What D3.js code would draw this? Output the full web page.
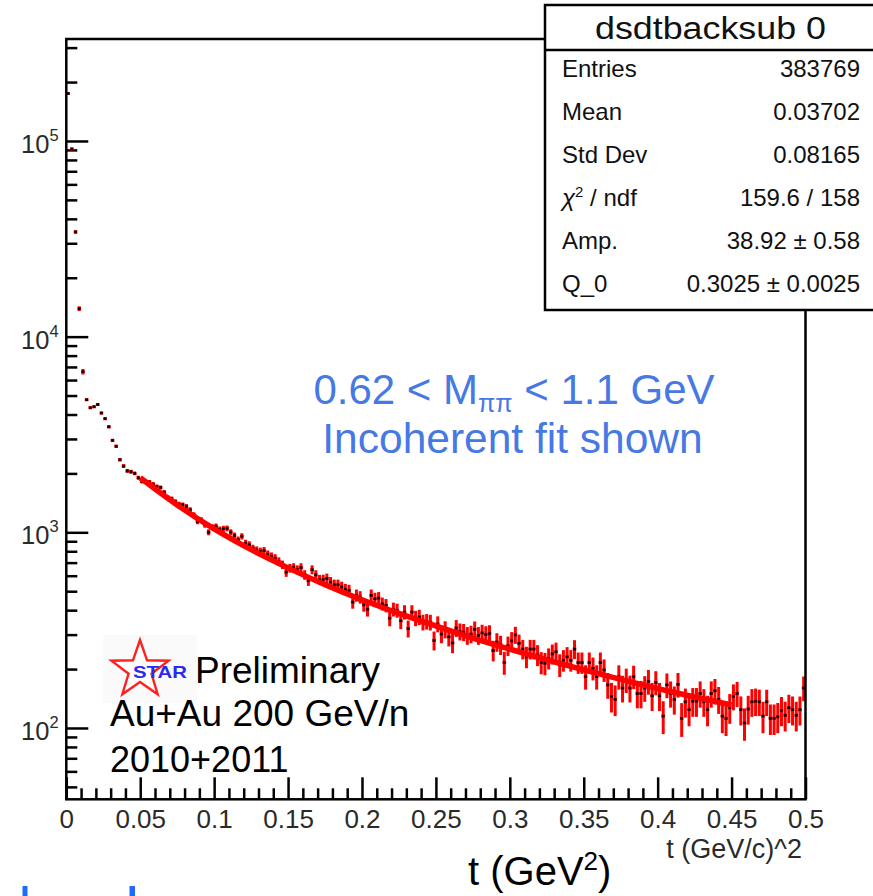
<!DOCTYPE html>
<html>
<head>
<meta charset="utf-8">
<script src="https://cdn.jsdelivr.net/npm/d3@7"></script>
<style>
  html, body { margin: 0; padding: 0; background: #fff; }
  svg { display: block; }
  text { font-family: "Liberation Sans", Arial, Helvetica, sans-serif; }
</style>
</head>
<body>
<script>
// ---- histogram: dsigma/dt after background subtraction, 200 bins of 0.0025 on [0, 0.5]
const histName = "dsdtbacksub 0";
const tMin = 0;
const binWidth = 0.0025;
const counts = [
  175000, 91000, 34300, 13900, 6620, 4760, 4330, 4380, 4500, 4070,
  3810, 3460, 2950, 2750, 2350, 2180, 2060, 2040, 2000, 1900,
  1820, 1820, 1805, 1762, 1714, 1695, 1603, 1506, 1483, 1437,
  1393, 1383, 1355, 1304, 1229, 1136, 1158, 1093, 1002, 1063,
  1073, 1034, 1043, 1048, 1002, 963, 917, 955, 880, 864,
  830, 812, 800, 806, 773, 754, 738, 710, 683, 626,
  656, 661, 644, 661, 606, 566, 644, 606, 572, 573,
  581, 557, 539, 539, 525, 511, 505, 440, 476, 466,
  426, 404, 476, 457, 461, 431, 423, 364, 404, 399,
  353, 391, 322, 391, 364, 369, 347, 350, 347, 280,
  340, 302, 319, 292, 272, 324, 311, 309, 297, 302,
  319, 297, 306, 300, 304, 249, 275, 266, 216, 263,
  279, 299, 271, 253, 231, 253, 253, 236, 216, 214,
  227, 239, 245, 210, 222, 231, 222, 253, 216, 216,
  183, 216, 202, 183, 216, 198, 166, 145, 140, 183,
  160, 176, 160, 183, 150, 150, 160, 173, 146, 171,
  146, 115, 166, 150, 140, 167, 112, 136, 124, 137,
  137, 150, 136, 124, 150, 155, 140, 115, 112, 127,
  145, 150, 124, 106, 125, 136, 137, 136, 115, 136,
  112, 112, 114, 123, 116, 127, 124, 116, 124, 160
];
const errors = [
  1800, 1250, 700, 380, 220, 70, 66, 66, 66, 63,
  61, 58, 54, 52, 49, 47, 46, 46, 45, 44,
  44, 44, 43, 43, 42, 42, 41, 40, 40, 40,
  39, 39, 39, 38, 38, 37, 37, 37, 36, 37,
  37, 36, 36, 36, 36, 35, 35, 35, 35, 35,
  35, 35, 35, 35, 35, 35, 35, 35, 34, 34,
  34, 34, 34, 34, 34, 34, 34, 34, 34, 34,
  34, 34, 34, 34, 34, 34, 34, 33, 34, 34,
  33, 33, 34, 34, 34, 33, 33, 33, 33, 33,
  33, 33, 32, 33, 33, 33, 32, 32, 32, 31,
  32, 31, 32, 31, 31, 32, 31, 31, 31, 31,
  31, 31, 31, 31, 31, 30, 30, 30, 29, 30,
  30, 30, 29, 29, 29, 29, 29, 29, 28, 28,
  28, 28, 28, 28, 28, 28, 28, 28, 27, 27,
  26, 27, 27, 26, 27, 26, 25, 25, 25, 26,
  25, 25, 25, 25, 24, 24, 24, 25, 24, 24,
  24, 22, 24, 23, 23, 24, 22, 23, 22, 23,
  23, 23, 22, 22, 23, 23, 22, 21, 21, 22,
  22, 22, 21, 20, 21, 22, 22, 21, 21, 21,
  20, 20, 20, 21, 20, 21, 21, 20, 21, 23
];

// ---- incoherent fit curve (fit range 0.05 - 0.45)
const fitT = [0.05, 0.075, 0.1, 0.125, 0.15, 0.175, 0.2, 0.225, 0.25, 0.275, 0.3, 0.325, 0.35, 0.375, 0.4, 0.425, 0.45];
const fitY = [1900, 1380, 1040, 815, 658, 540, 452, 385, 332, 288, 253, 223, 198, 177, 159, 144, 131];

// ---- axes
const xMajorTicks = [0, 0.05, 0.1, 0.15, 0.2, 0.25, 0.3, 0.35, 0.4, 0.45, 0.5];
const xTickLabels = ["0", "0.05", "0.1", "0.15", "0.2", "0.25", "0.3", "0.35", "0.4", "0.45", "0.5"];
const yDecades = [2, 3, 4, 5];
const xAxisTitle = "t (GeV/c)^2";

// ---- statistics box
const statLabels = ["Entries", "Mean", "Std Dev", "chi2/ndf", "Amp.", "Q_0"];
const statValues = ["383769", "0.03702", "0.08165", "159.6 / 158", "38.92 \u00b1 0.58", "0.3025 \u00b1 0.0025"];

// ---- annotations
const massLabel = ["0.62 < M", "\u03c0\u03c0", " < 1.1 GeV"];
const fitLabel = "Incoherent fit shown";
const starLines = ["Preliminary", "Au+Au 200 GeV/n", "2010+2011"];

const W = 873, H = 896;
const svg = d3.select("body").append("svg").attr("width", W).attr("height", H);
svg.append("rect").attr("width", W).attr("height", H).attr("fill", "#fff");

const frame = { l: 66.3, r: 805.5, t: 39, b: 799.3 };
const x = d3.scaleLinear().domain([0, 0.5]).range([frame.l, frame.r]);
const y = d3.scaleLog().domain([43.2, 332000]).range([frame.b, frame.t]);

svg.append("clipPath").attr("id", "plotclip")
  .append("rect").attr("x", frame.l).attr("y", frame.t)
  .attr("width", frame.r - frame.l).attr("height", frame.b - frame.t);

// ---- x axis: major + minor ticks pointing into the frame
const xMinor = d3.range(0, 51).map(i => i * 0.01).filter(v => !xMajorTicks.some(m => Math.abs(m - v) < 1e-9));
const gxMinor = svg.append("g").attr("transform", `translate(0,${frame.b})`)
  .call(d3.axisBottom(x).tickValues(xMinor).tickSize(-11).tickFormat(""));
const gx = svg.append("g").attr("transform", `translate(0,${frame.b})`)
  .call(d3.axisBottom(x).tickValues(xMajorTicks).tickSize(-22).tickPadding(10)
    .tickFormat((d, i) => xTickLabels[i]));
gx.selectAll(".tick text").attr("font-size", 26).attr("fill", "#2a2a2a")
  .attr("font-family", "'Liberation Sans', Arial, sans-serif");

// ---- y axis (log): decades + 2..9 minors
const yMajor = yDecades.map(k => Math.pow(10, k));
const yMinor = [];
[1, 2, 3, 4, 5].forEach(k => d3.range(2, 10).forEach(m => {
  const v = m * Math.pow(10, k);
  if (v >= y.domain()[0] && v <= y.domain()[1]) yMinor.push(v);
}));
const gyMinor = svg.append("g").attr("transform", `translate(${frame.l},0)`)
  .call(d3.axisLeft(y).tickValues(yMinor).tickSize(-11).tickFormat(""));
const gy = svg.append("g").attr("transform", `translate(${frame.l},0)`)
  .call(d3.axisLeft(y).tickValues(yMajor).tickSize(-22).tickFormat(""));
gy.selectAll(".tick").each(function (d, i) {
  const t = d3.select(this).select("text")
    .attr("x", -45.3).attr("dy", null).attr("y", 11.5)
    .attr("text-anchor", "start").attr("font-size", 25.5).attr("fill", "#2a2a2a");
  t.append("tspan").text("10");
  t.append("tspan").attr("dy", -12).attr("font-size", 16.5).text(String(yDecades[i]));
});

[gx, gxMinor, gy, gyMinor].forEach(g => {
  g.select(".domain").remove();
  g.selectAll(".tick line").attr("stroke", "#000").attr("stroke-width", 2.5);
});

// ---- data: error bars (red) and markers (black)
const bins = counts.map((c, i) => ({
  lo: tMin + i * binWidth,
  hi: tMin + (i + 1) * binWidth,
  c: c,
  e: errors[i]
}));
const plot = svg.append("g").attr("clip-path", "url(#plotclip)");
const eb = plot.append("g").attr("stroke", "#ff0000").attr("stroke-width", 3);
eb.selectAll("line.h").data(bins).join("line").attr("class", "h")
  .attr("x1", d => x(d.lo)).attr("x2", d => x(d.hi))
  .attr("y1", d => y(d.c)).attr("y2", d => y(d.c));
eb.selectAll("line.v").data(bins).join("line").attr("class", "v")
  .attr("x1", d => x((d.lo + d.hi) / 2)).attr("x2", d => x((d.lo + d.hi) / 2))
  .attr("y1", d => y(d.c + d.e)).attr("y2", d => y(Math.max(d.c - d.e, 1)));

plot.append("g").selectAll("rect").data(bins).join("rect")
  .attr("x", d => x((d.lo + d.hi) / 2) - 1.3).attr("y", d => y(d.c) - 1.3)
  .attr("width", 2.6).attr("height", 2.6).attr("fill", "#000");

// ---- fit
const fitLine = d3.line().x(d => x(d[0])).y(d => y(d[1])).curve(d3.curveMonotoneX);
plot.append("path").datum(fitT.map((t, i) => [t, fitY[i]]))
  .attr("d", fitLine).attr("fill", "none").attr("stroke", "#ff0000").attr("stroke-width", 5.5)
  .attr("stroke-linejoin", "round");

// ---- frame
svg.append("rect").attr("x", frame.l).attr("y", frame.t)
  .attr("width", frame.r - frame.l).attr("height", frame.b - frame.t)
  .attr("fill", "none").attr("stroke", "#000").attr("stroke-width", 2.5);

// ---- axis title (ROOT style, right aligned)
svg.append("text").attr("x", 802).attr("y", 858).attr("text-anchor", "end")
  .attr("font-size", 27).attr("fill", "#2a2a2a").text(xAxisTitle);

// ---- statistics box
const sb = svg.append("g");
sb.append("rect").attr("x", 545).attr("y", 5).attr("width", 345).attr("height", 305)
  .attr("fill", "#fff").attr("stroke", "#000").attr("stroke-width", 2.5);
sb.append("line").attr("x1", 545).attr("x2", 873).attr("y1", 50).attr("y2", 50)
  .attr("stroke", "#000").attr("stroke-width", 2.5);
sb.append("text").attr("x", 710.5).attr("y", 38.5).attr("text-anchor", "middle")
  .attr("font-size", 31).attr("textLength", 231).attr("lengthAdjust", "spacingAndGlyphs")
  .attr("fill", "#111").text(histName);
statLabels.forEach((lab, i) => {
  const by = 77 + i * 43;
  const t = sb.append("text").attr("x", 562).attr("y", by).attr("font-size", 24).attr("fill", "#111");
  if (lab === "chi2/ndf") {
    t.append("tspan").attr("font-style", "italic").text("\u03c7");
    t.append("tspan").attr("dy", -9).attr("font-size", 15).text("2");
    t.append("tspan").attr("dy", 9).text(" / ndf");
  } else {
    t.text(lab);
  }
  sb.append("text").attr("x", 860).attr("y", by).attr("text-anchor", "end")
    .attr("font-size", 24).attr("fill", "#111").text(statValues[i]);
});

// ---- blue annotation
const blue = "#4679e3";
const m = svg.append("text").attr("x", 514).attr("y", 404).attr("text-anchor", "middle")
  .attr("font-size", 42).attr("fill", blue);
m.append("tspan").text(massLabel[0]);
m.append("tspan").attr("dy", 8).attr("font-size", 25).text(massLabel[1]);
m.append("tspan").attr("dy", -8).text(massLabel[2]);
svg.append("text").attr("x", 512.5).attr("y", 453).attr("text-anchor", "middle")
  .attr("font-size", 42.5).attr("fill", blue).text(fitLabel);

// ---- STAR logo + preliminary label
const logo = svg.append("g");
logo.append("rect").attr("x", 103).attr("y", 635).attr("width", 94).attr("height", 68).attr("fill", "#fafafa");
const starC = [140, 670], R = 30, r = 12;
const starPts = d3.range(10).map(k => {
  const a = -Math.PI / 2 + k * Math.PI / 5;
  const rad = k % 2 === 0 ? R : r;
  return [starC[0] + rad * Math.cos(a), starC[1] + rad * Math.sin(a)];
});
logo.append("path").attr("d", d3.line()(starPts) + "Z")
  .attr("fill", "#fff").attr("stroke", "#ff2020").attr("stroke-width", 2.4).attr("stroke-linejoin", "miter");
logo.append("text").attr("x", 133).attr("y", 678).attr("font-size", 17).attr("font-weight", "bold")
  .attr("textLength", 54).attr("lengthAdjust", "spacingAndGlyphs").attr("fill", "#2a2af0").text("STAR");

svg.append("text").attr("x", 195).attr("y", 683).attr("font-size", 37).attr("fill", "#000").text(starLines[0]);
svg.append("text").attr("x", 110).attr("y", 726).attr("font-size", 37).attr("fill", "#000").text(starLines[1]);
svg.append("text").attr("x", 110).attr("y", 772).attr("font-size", 36).attr("fill", "#000").text(starLines[2]);

// ---- slide-level axis caption
const cap = svg.append("text").attr("x", 468).attr("y", 885).attr("font-size", 40).attr("fill", "#000");
cap.append("tspan").text("t (GeV");
cap.append("tspan").attr("dy", -15).attr("font-size", 26).text("2");
cap.append("tspan").attr("dy", 15).text(")");

// ---- cut-off blue strokes along the bottom edge
svg.append("rect").attr("x", 22.5).attr("y", 886).attr("width", 5).attr("height", 10).attr("fill", "#1f6bff");
svg.append("rect").attr("x", 129.5).attr("y", 886).attr("width", 5.5).attr("height", 10).attr("fill", "#1f6bff");
</script>
</body>
</html>
